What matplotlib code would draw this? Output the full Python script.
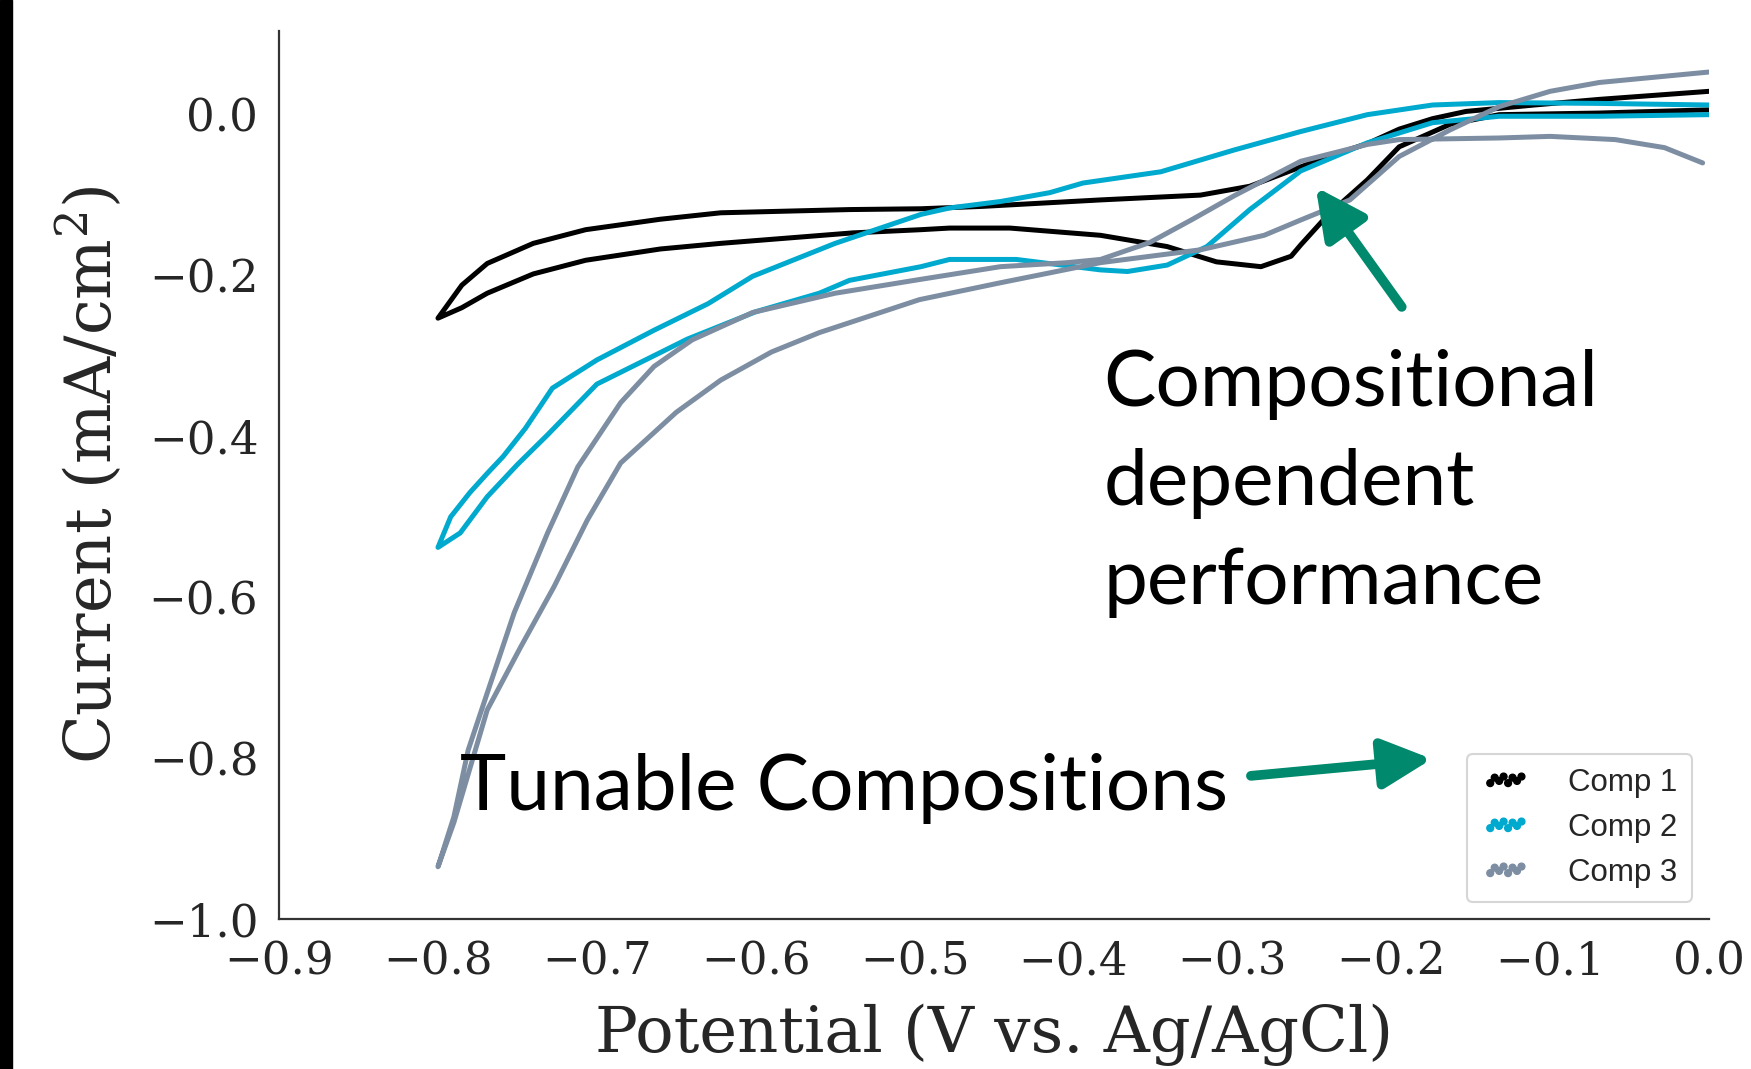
import matplotlib
matplotlib.use('Agg')
import matplotlib.pyplot as plt
from matplotlib.patches import Rectangle

# Comp 1 (black) - two branches of the sweep
comp1_upper_x = [-0.800, -0.785, -0.769, -0.740, -0.707, -0.660, -0.622, -0.541, -0.496, -0.457,
                 -0.383, -0.320, -0.289, -0.261, -0.240, -0.215, -0.195, -0.174, -0.153, -0.110,
                 -0.069, 0.000]
comp1_upper_y = [-0.253, -0.212, -0.185, -0.160, -0.143, -0.130, -0.122, -0.118, -0.117, -0.114,
                 -0.106, -0.100, -0.089, -0.068, -0.052, -0.036, -0.018, -0.005, 0.004, 0.012,
                 0.019, 0.029]
comp1_lower_x = [-0.800, -0.785, -0.769, -0.740, -0.707, -0.660, -0.622, -0.539, -0.496, -0.478,
                 -0.440, -0.383, -0.341, -0.310, -0.282, -0.263, -0.257, -0.240, -0.215, -0.195,
                 -0.163, -0.132, -0.069, 0.000]
comp1_lower_y = [-0.253, -0.240, -0.222, -0.198, -0.181, -0.167, -0.160, -0.147, -0.143, -0.141,
                 -0.141, -0.150, -0.164, -0.183, -0.189, -0.176, -0.162, -0.125, -0.081, -0.040,
                 -0.012, 0.000, 0.002, 0.006]

# Comp 2 (cyan)
comp2_upper_x = [-0.800, -0.792, -0.780, -0.769, -0.759, -0.745, -0.728, -0.700, -0.664, -0.630,
                 -0.602, -0.550, -0.496, -0.478, -0.446, -0.415, -0.394, -0.345, -0.299, -0.257,
                 -0.215, -0.174, -0.132, -0.069, 0.000]
comp2_upper_y = [-0.538, -0.500, -0.470, -0.446, -0.425, -0.390, -0.340, -0.305, -0.268, -0.235,
                 -0.201, -0.160, -0.124, -0.116, -0.108, -0.097, -0.085, -0.071, -0.044, -0.021,
                 0.000, 0.012, 0.015, 0.014, 0.012]
comp2_lower_x = [-0.800, -0.786, -0.769, -0.750, -0.731, -0.700, -0.643, -0.600, -0.560, -0.541,
                 -0.496, -0.478, -0.436, -0.383, -0.366, -0.341, -0.316, -0.289, -0.257, -0.215,
                 -0.174, -0.132, -0.069, 0.000]
comp2_lower_y = [-0.538, -0.520, -0.475, -0.435, -0.398, -0.335, -0.279, -0.245, -0.222, -0.206,
                 -0.189, -0.180, -0.180, -0.193, -0.195, -0.187, -0.164, -0.118, -0.070, -0.035,
                 -0.010, -0.002, -0.002, 0.000]

# Comp 3 (grey)
comp3_upper_x = [-0.800, -0.790, -0.781, -0.769, -0.752, -0.731, -0.712, -0.685, -0.664, -0.640,
                 -0.602, -0.550, -0.497, -0.446, -0.404, -0.383, -0.352, -0.325, -0.299, -0.257,
                 -0.215, -0.195, -0.132, -0.100, -0.059, -0.028, -0.004]
comp3_upper_y = [-0.935, -0.873, -0.790, -0.719, -0.619, -0.520, -0.438, -0.358, -0.313, -0.280,
                 -0.246, -0.222, -0.205, -0.189, -0.184, -0.180, -0.159, -0.130, -0.101, -0.058,
                 -0.037, -0.031, -0.029, -0.027, -0.031, -0.041, -0.060]
comp3_lower_x = [-0.800, -0.790, -0.778, -0.769, -0.748, -0.727, -0.706, -0.685, -0.650, -0.622,
                 -0.590, -0.560, -0.497, -0.446, -0.383, -0.320, -0.280, -0.257, -0.226, -0.195,
                 -0.163, -0.132, -0.100, -0.069, 0.000]
comp3_lower_y = [-0.935, -0.880, -0.800, -0.740, -0.662, -0.587, -0.504, -0.433, -0.370, -0.330,
                 -0.295, -0.271, -0.230, -0.209, -0.184, -0.168, -0.150, -0.131, -0.106, -0.052,
                 -0.019, 0.010, 0.029, 0.040, 0.053]

labels = ['Comp 1', 'Comp 2', 'Comp 3']
colors = ['#000000', '#00a9ce', '#7d8ea3']
x_ticks = [-0.9, -0.8, -0.7, -0.6, -0.5, -0.4, -0.3, -0.2, -0.1, 0.0]
y_ticks = [-1.0, -0.8, -0.6, -0.4, -0.2, 0.0]

curves = [
    (comp1_upper_x, comp1_upper_y, comp1_lower_x, comp1_lower_y),
    (comp2_upper_x, comp2_upper_y, comp2_lower_x, comp2_lower_y),
    (comp3_upper_x, comp3_upper_y, comp3_lower_x, comp3_lower_y),
]

plt.rcParams['mathtext.fontset'] = 'dejavuserif'

fig = plt.figure(figsize=(17.51, 10.69), dpi=100)
ax = fig.add_axes([0.1594, 0.1403, 0.8166, 0.8307])

for (ux, uy, lx, ly), col, lab in zip(curves, colors, labels):
    # upper branch drawn back to the start, then the lower branch forward
    loop_x = ux[::-1] + lx[1:]
    loop_y = uy[::-1] + ly[1:]
    ax.plot(loop_x, loop_y, color=col, lw=3.6, solid_capstyle='round', solid_joinstyle='round')
    ax.scatter([], [], s=24, color=col, label=lab)

ax.set_xlim(-0.9, 0.0)
ax.set_ylim(-1.0, 0.104)
ax.set_xticks(x_ticks)
ax.set_yticks(y_ticks)
ax.tick_params(length=0, pad=15, labelsize=32.5, colors='#262626')
for t in ax.get_xticklabels() + ax.get_yticklabels():
    t.set_family('DejaVu Serif')

for side in ['top', 'right']:
    ax.spines[side].set_visible(False)
for side in ['left', 'bottom']:
    ax.spines[side].set_color('#333333')
    ax.spines[side].set_linewidth(1.6)

ax.set_xlabel('Potential (V vs. Ag/AgCl)', family='DejaVu Serif', fontsize=46, color='#262626')
ax.set_ylabel('Current (mA/cm$^2$)', family='DejaVu Serif', fontsize=46, color='#262626')
ax.xaxis.set_label_coords(0.5, -0.095)
ax.yaxis.set_label_coords(-0.108, 0.5)

leg = ax.legend(loc='lower right', scatterpoints=8, scatteryoffsets=[0.35, 0.6, 0.45, 0.65],
                prop={'family': 'Liberation Sans', 'size': 22.5}, frameon=True, fancybox=True,
                borderaxespad=0.55, handlelength=1.6, handletextpad=1.2, labelspacing=0.48,
                borderpad=0.45)
leg.get_frame().set_edgecolor('#cccccc')
leg.get_frame().set_linewidth(1.5)
for txt in leg.get_texts():
    txt.set_color('#262626')

teal = '#00896c'
ann_font = ['Lato', 'DejaVu Sans']
ax.text(-0.381, -0.608, 'Compositional\ndependent\nperformance', family=ann_font,
        fontsize=56.5, ha='left', va='baseline', linespacing=1.49, color='black')
ax.text(-0.786, -0.864, 'Tunable Compositions', family=ann_font,
        fontsize=56.5, ha='left', va='baseline', color='black')
ax.annotate('', xy=(-0.2475, -0.090), xytext=(-0.1934, -0.239),
            arrowprops=dict(arrowstyle='-|>,head_length=1.0,head_width=0.5', lw=7,
                            color=teal, shrinkA=0, shrinkB=0, mutation_scale=30))
ax.annotate('', xy=(-0.1744, -0.801), xytext=(-0.2883, -0.822),
            arrowprops=dict(arrowstyle='-|>,head_length=1.0,head_width=0.5', lw=7,
                            color=teal, shrinkA=0, shrinkB=0, mutation_scale=30))

# black strip at the left edge of the slide
fig.patches.append(Rectangle((0, 0), 12 / 1751, 1, transform=fig.transFigure,
                             color='black', zorder=10))

fig.savefig('out.png', dpi=100)
